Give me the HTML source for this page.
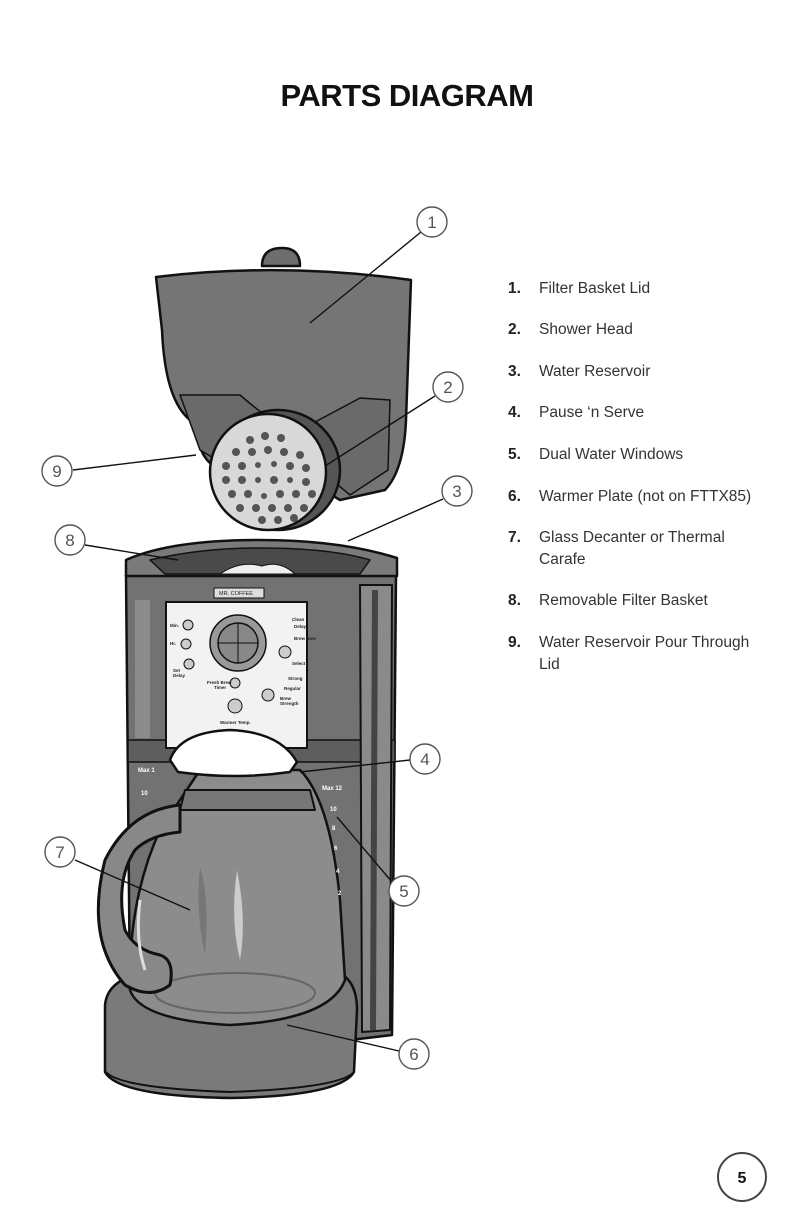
<!DOCTYPE html>
<html><head><meta charset="utf-8"><style>
html,body{margin:0;padding:0;background:#fff;}
body{width:792px;height:1224px;position:relative;overflow:hidden;font-family:"Liberation Sans",sans-serif;}
h1{position:absolute;left:0;width:814px;top:78px;margin:0;text-align:center;font-size:31px;font-weight:bold;letter-spacing:-0.5px;color:#111;}
.li{position:absolute;left:508px;font-size:15.5px;color:#333;line-height:22px;}
.li b{display:inline-block;width:31px;font-weight:bold;color:#222;}
.li span{display:inline-block;vertical-align:top;}
</style></head><body>
<h1>PARTS DIAGRAM</h1>
<svg width="792" height="1224" style="position:absolute;left:0;top:0" xmlns="http://www.w3.org/2000/svg">
<g stroke="#111" stroke-width="2.5" stroke-linejoin="round">
<path d="M262,266 Q262,248 282,248 Q300,248 300,266 Z" fill="#6e6e6e"/>
<path d="M156,277 Q280,262 411,280 L406,420 Q404,470 385,490 L340,500 L290,470 L230,470 Q205,470 198,440 L190,420 Q165,400 162,330 Z" fill="#757575"/>
<path d="M180,395 L240,395 Q280,430 300,430 L360,398 L390,400 L388,470 L350,495 L320,470 L230,468 L200,450 Z" fill="#6a6a6a" stroke-width="1.5"/>
<ellipse cx="278" cy="470" rx="62" ry="60" fill="#555"/>
<ellipse cx="268" cy="472" rx="58" ry="58" fill="#d8d8d8"/>
<g fill="#555" stroke="none">
<circle cx="250" cy="440" r="4"/><circle cx="265" cy="436" r="4"/><circle cx="281" cy="438" r="4"/>
<circle cx="236" cy="452" r="4"/><circle cx="252" cy="452" r="4"/><circle cx="268" cy="450" r="4"/><circle cx="284" cy="452" r="4"/><circle cx="300" cy="455" r="4"/>
<circle cx="226" cy="466" r="4"/><circle cx="242" cy="466" r="4"/><circle cx="258" cy="465" r="3"/><circle cx="274" cy="464" r="3"/><circle cx="290" cy="466" r="4"/><circle cx="306" cy="468" r="4"/>
<circle cx="226" cy="480" r="4"/><circle cx="242" cy="480" r="4"/><circle cx="258" cy="480" r="3"/><circle cx="274" cy="480" r="4"/><circle cx="290" cy="480" r="3"/><circle cx="306" cy="482" r="4"/>
<circle cx="232" cy="494" r="4"/><circle cx="248" cy="494" r="4"/><circle cx="264" cy="496" r="3"/><circle cx="280" cy="494" r="4"/><circle cx="296" cy="494" r="4"/><circle cx="312" cy="494" r="4"/>
<circle cx="240" cy="508" r="4"/><circle cx="256" cy="508" r="4"/><circle cx="272" cy="508" r="4"/><circle cx="288" cy="508" r="4"/><circle cx="304" cy="508" r="4"/>
<circle cx="262" cy="520" r="4"/><circle cx="278" cy="520" r="4"/><circle cx="294" cy="518" r="4"/>
</g>
<path d="M126,575 L396,575 L392,1035 L350,1040 L140,1040 L130,1000 Z" fill="#727272"/>
<path d="M128,740 L395,740 L395,762 L128,762 Z" fill="#5e5e5e" stroke-width="1.5"/>
<path d="M360,585 L392,585 L390,1030 L362,1032 Z" fill="#8a8a8a" stroke-width="2"/>
<path d="M372,590 L378,590 L376,1030 L370,1030 Z" fill="#444" stroke="none"/>
<path d="M135,600 L150,600 L150,738 L135,738 Z" fill="#8c8c8c" stroke="none"/>
<path d="M126,560 Q170,540 260,540 Q340,540 397,558 L397,576 L126,576 Z" fill="#7a7a7a"/>
<path d="M150,560 Q200,548 260,548 Q330,548 370,560 L360,574 L165,574 Z" fill="#4a4a4a" stroke-width="1.5"/>
<path d="M220,574 Q240,560 262,566 Q280,560 295,574 Z" fill="#eee" stroke-width="1"/>
<rect x="214" y="588" width="50" height="10" fill="#ddd" stroke-width="1"/>
<rect x="166" y="602" width="141" height="146" fill="#f2f2f2" stroke-width="2"/>
<circle cx="238" cy="643" r="28" fill="#999" stroke-width="1.5"/>
<circle cx="238" cy="643" r="20" fill="#888" stroke-width="1.5"/>
<line x1="218" y1="643" x2="258" y2="643" stroke-width="1"/><line x1="238" y1="623" x2="238" y2="663" stroke-width="1"/>
<g fill="#ccc" stroke-width="1">
<circle cx="188" cy="625" r="5"/><circle cx="186" cy="644" r="5"/><circle cx="189" cy="664" r="5"/><circle cx="235" cy="683" r="5"/>
<circle cx="285" cy="652" r="6"/><circle cx="268" cy="695" r="6"/><circle cx="235" cy="706" r="7"/>
</g>
<path d="M105,1005 Q108,972 170,970 L330,970 Q357,975 357,1010 L354,1072 Q340,1096 230,1098 Q118,1096 105,1072 Z" fill="#7a7a7a"/>
<path d="M106,1072 Q120,1088 230,1092 Q340,1088 354,1072" fill="none" stroke-width="2"/>
<path d="M200,770 L300,770 Q330,800 340,900 L345,980 Q330,1020 230,1025 Q140,1020 130,990 Q128,900 160,830 Z" fill="#8c8c8c"/>
<path d="M185,790 L310,790 L315,810 L180,810 Z" fill="#777" stroke-width="2"/>
<ellipse cx="235" cy="993" rx="80" ry="20" fill="none" stroke="#666" stroke-width="2"/>
<path d="M237,870 Q247,920 240,960 Q230,920 237,870 Z" fill="#ccc" stroke="none"/>
<path d="M200,867 Q210,900 205,955 Q195,910 200,867 Z" fill="#777" stroke="none"/>
<path d="M180,805 Q130,810 105,860 Q85,940 125,985 Q150,1000 170,985 Q175,960 160,955 Q135,950 125,930 Q115,880 135,850 Q150,835 180,832 Z" fill="#888" stroke-width="3"/>
<path d="M140,900 Q135,940 145,970" fill="none" stroke="#ddd" stroke-width="3"/>
<path d="M170,760 Q180,732 230,730 Q280,732 297,762 L290,772 Q235,780 178,772 Z" fill="#fff" stroke-width="2.5"/>
</g>
<g font-family="Liberation Sans,sans-serif" font-weight="bold" fill="#fff" font-size="6">
<text x="138" y="772">Max 1</text><text x="141" y="795">10</text>
<text x="322" y="790">Max 12</text><text x="330" y="811">10</text><text x="332" y="830">8</text><text x="334" y="850">6</text><text x="336" y="873">4</text><text x="338" y="895">2</text>
</g>
<g font-family="Liberation Sans,sans-serif" font-weight="bold" fill="#222" font-size="4.5">
<text x="170" y="627">Min.</text><text x="170" y="645">Hr.</text><text x="173" y="672">Set</text><text x="173" y="677">Delay</text>
<text x="207" y="684">Fresh Brew</text><text x="214" y="689">Timer</text><text x="220" y="724">Warmer Temp.</text>
<text x="292" y="621">Clean</text><text x="294" y="628">Delay</text><text x="294" y="640">Brew Now</text>
<text x="292" y="665">Select</text><text x="288" y="680">Strong</text><text x="284" y="690">Regular</text><text x="280" y="700">Brew</text><text x="280" y="705">Strength</text>
<text x="219" y="595" font-weight="normal" font-size="5.5">MR. COFFEE</text>
</g>
<g stroke="#111" stroke-width="1.4" fill="none">
<line x1="421" y1="232" x2="310" y2="323"/>
<line x1="435" y1="396" x2="325" y2="466"/>
<line x1="443" y1="499" x2="348" y2="541"/>
<line x1="410" y1="760" x2="300" y2="772"/>
<line x1="392" y1="882" x2="337" y2="817"/>
<line x1="399" y1="1051" x2="287" y2="1025"/>
<line x1="75" y1="860" x2="190" y2="910"/>
<line x1="85" y1="545" x2="178" y2="560"/>
<line x1="73" y1="470" x2="196" y2="455"/>
</g>
<g stroke="#555" stroke-width="1.4" fill="#fff">
<circle cx="432" cy="222" r="15"/><circle cx="448" cy="387" r="15"/><circle cx="457" cy="491" r="15"/>
<circle cx="425" cy="759" r="15"/><circle cx="404" cy="891" r="15"/><circle cx="414" cy="1054" r="15"/>
<circle cx="60" cy="852" r="15"/><circle cx="70" cy="540" r="15"/><circle cx="57" cy="471" r="15"/>
</g>
<g fill="#555" font-family="Liberation Sans,sans-serif" font-size="17" text-anchor="middle">
<text x="432" y="228">1</text><text x="448" y="393">2</text><text x="457" y="497">3</text>
<text x="425" y="765">4</text><text x="404" y="897">5</text><text x="414" y="1060">6</text>
<text x="60" y="858">7</text><text x="70" y="546">8</text><text x="57" y="477">9</text>
</g>
<circle cx="742" cy="1177" r="24" fill="#fff" stroke="#444" stroke-width="2"/>
<text x="742" y="1183" text-anchor="middle" font-family="Liberation Sans,sans-serif" font-weight="bold" font-size="16" fill="#111">5</text>
</svg>
<div class="li" style="top:278px"><b>1.</b><span>Filter Basket Lid</span></div>
<div class="li" style="top:319px"><b>2.</b><span>Shower Head</span></div>
<div class="li" style="top:361px"><b>3.</b><span>Water Reservoir</span></div>
<div class="li" style="top:402px"><b>4.</b><span>Pause ‘n Serve</span></div>
<div class="li" style="top:444px"><b>5.</b><span>Dual Water Windows</span></div>
<div class="li" style="top:486px"><b>6.</b><span>Warmer Plate (not on FTTX85)</span></div>
<div class="li" style="top:527px"><b>7.</b><span>Glass Decanter or Thermal<br>Carafe</span></div>
<div class="li" style="top:590px"><b>8.</b><span>Removable Filter Basket</span></div>
<div class="li" style="top:632px"><b>9.</b><span>Water Reservoir Pour Through<br>Lid</span></div>
</body></html>
